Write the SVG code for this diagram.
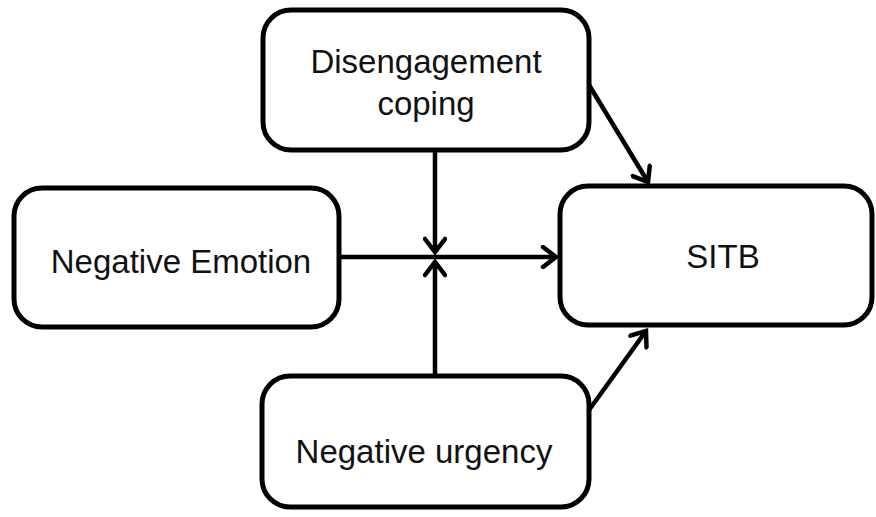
<svg xmlns="http://www.w3.org/2000/svg" width="876" height="517" viewBox="0 0 876 517">
  <style>
    .box { fill: #fff; stroke: #000; stroke-width: 5; }
    .lbl { font-family: "Liberation Sans", Arial, sans-serif; font-size: 33px; fill: #111; text-anchor: middle; }
    .conn { stroke: #000; stroke-width: 4.5; fill: none; }
  </style>
  <defs>
    <marker id="arr" markerUnits="userSpaceOnUse" viewBox="-16 -12 20 24" refX="0" refY="0" markerWidth="20" markerHeight="24" orient="auto">
      <path d="M-13,-10 L0,0 L-13,10" fill="none" stroke="#000" stroke-width="4.5" stroke-linejoin="miter" stroke-linecap="round"/>
    </marker>
  </defs>
  <rect width="876" height="517" fill="#fff"/>
  <g id="connectors">
    <line class="conn" x1="435" y1="150" x2="435" y2="252" marker-end="url(#arr)"/>
    <line class="conn" x1="435" y1="376" x2="435" y2="262" marker-end="url(#arr)"/>
    <line class="conn" x1="339" y1="257" x2="556" y2="257" marker-end="url(#arr)"/>
    <line class="conn" x1="589" y1="85" x2="648" y2="182" marker-end="url(#arr)"/>
    <line class="conn" x1="589" y1="410" x2="646" y2="331" marker-end="url(#arr)"/>
  </g>
  <g id="disengagement">
    <rect class="box" x="263" y="10" width="326" height="140" rx="28"/>
    <text class="lbl" x="426" y="73">Disengagement</text>
    <text class="lbl" x="426" y="115">coping</text>
  </g>
  <g id="negative-emotion">
    <rect class="box" x="14" y="188" width="325" height="139" rx="28"/>
    <text class="lbl" x="181" y="273">Negative Emotion</text>
  </g>
  <g id="sitb">
    <rect class="box" x="560" y="186" width="312" height="139" rx="28"/>
    <text class="lbl" x="723" y="268">SITB</text>
  </g>
  <g id="negative-urgency">
    <rect class="box" x="262" y="376" width="327" height="131" rx="28"/>
    <text class="lbl" x="424" y="463">Negative urgency</text>
  </g>
</svg>
